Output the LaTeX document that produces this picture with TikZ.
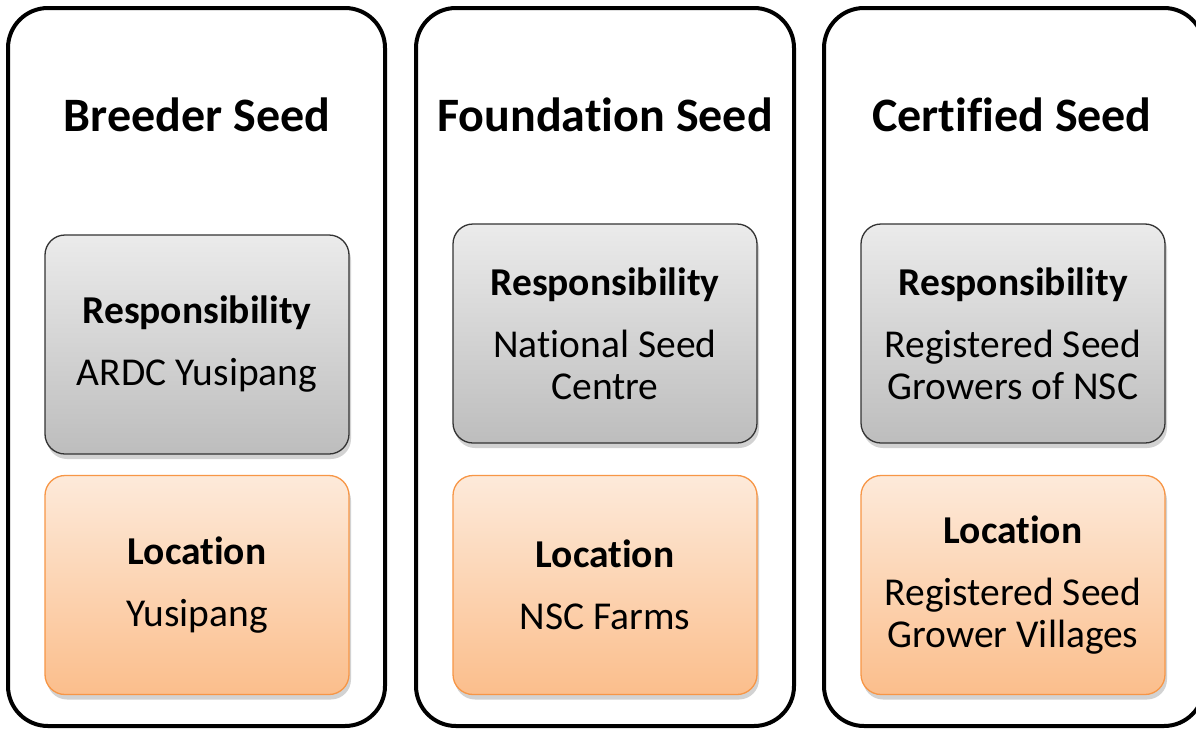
\documentclass[tikz,border=0pt]{standalone}
\usepackage{fontspec}
\setmainfont[RawFeature={-liga;-clig;-dlig;-calt;-hlig}]{Carlito}
\usetikzlibrary{shadows}
\definecolor{grayborder}{HTML}{333333}
\definecolor{graytop}{HTML}{EBEBEB}
\definecolor{graybot}{HTML}{BDBDBD}
\definecolor{orgborder}{HTML}{F79646}
\definecolor{orgtop}{HTML}{FDEADA}
\definecolor{orgbot}{HTML}{FBBE8C}
\tikzset{
  column/.style={draw=black, line width=4pt, rounded corners=40pt},
  title/.style={font=\fontsize{48}{56}\selectfont\bfseries, anchor=center},
  card/.style={minimum width=304pt, minimum height=219pt, rounded corners=20pt,
    line width=1.3pt, align=center, font=\fontsize{39.5}{42}\selectfont, inner sep=0pt,
    drop shadow={shadow xshift=2pt, shadow yshift=-5pt, opacity=0.35, fill=gray}},
  respcard/.style={card, draw=grayborder, top color=graytop, bottom color=graybot},
  loccard/.style={card, draw=orgborder, top color=orgtop, bottom color=orgbot},
}
\begin{document}
\begin{tikzpicture}[x=1pt, y=-1pt]
\useasboundingbox (0,0) rectangle (1196,728);
\clip (0,0) rectangle (1196,728);
\fill[white] (0,0) rectangle (1196,728);
% columns
\draw[column] (8,8) rectangle (385,726);
\draw[column] (416,8) rectangle (794,726);
\draw[column] (824,8) rectangle (1204,726);
% titles
\node[title] (t1) at (197,115) {Breeder Seed};
\node[title] (t2) at (605,115) {Foundation Seed};
\node[title] (t3) at (1012,115) {Certified Seed};
% responsibility cards
\node[respcard] (r1) at (197,344.5) {\textbf{Responsibility}\\[20pt]ARDC Yusipang};
\node[respcard] (r2) at (605,333.5) {\textbf{Responsibility}\\[20pt]National Seed\\Centre};
\node[respcard] (r3) at (1013,333.5) {\textbf{Responsibility}\\[20pt]Registered Seed\\Growers of NSC};
% location cards
\node[loccard] (l1) at (197,585) {\textbf{Location}\\[20pt]Yusipang};
\node[loccard] (l2) at (605,585) {\textbf{Location}\\[20pt]NSC Farms};
\node[loccard] (l3) at (1013,585) {\textbf{Location}\\[20pt]Registered Seed\\Grower Villages};
\end{tikzpicture}
\end{document}
